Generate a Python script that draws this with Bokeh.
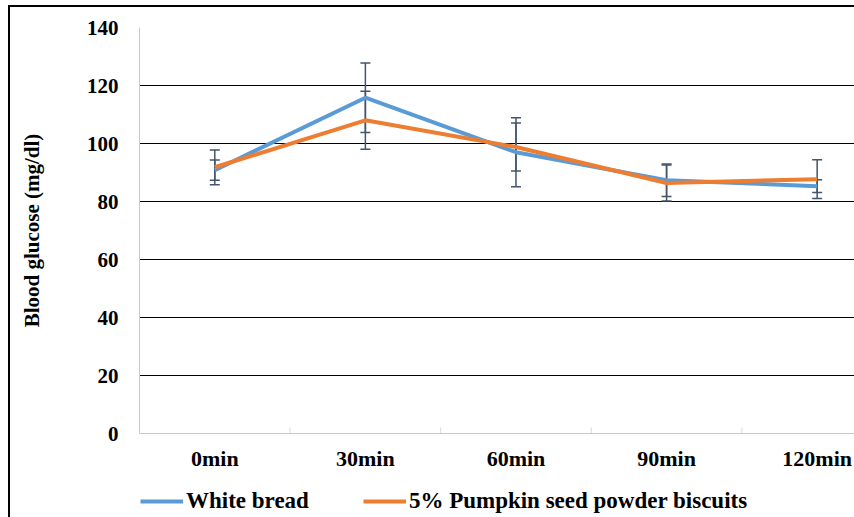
from bokeh.plotting import figure
from bokeh.layouts import column
from bokeh.models import (ColumnDataSource, FixedTicker, Whisker, TeeHead, Legend, LegendItem, Range1d)
from bokeh.embed import file_html
from bokeh.resources import INLINE

categories = ["0min", "30min", "60min", "90min", "120min"]
white_bread = [90.8, 115.8, 97.0, 87.3, 85.3]
white_bread_err = [3.5, 12.0, 11.9, 5.6, 2.2]
pumpkin = [91.8, 108.0, 98.8, 86.4, 87.7]
pumpkin_err = [6.0, 10.0, 8.3, 6.2, 6.7]
y_ticks = [0, 20, 40, 60, 80, 100, 120, 140]
series_names = ["White bread", "5% Pumpkin seed powder biscuits"]

xs = list(range(len(categories)))
bounds = [i + 0.5 for i in xs[:-1]]

FONT = "Liberation Serif"
BLUE = "#5B9BD5"
ORANGE = "#ED7D31"
ERR = "#44546A"
AXIS = "#BFCBDB"

p = figure(width=844, height=470, output_backend="svg", toolbar_location=None,
           x_range=(-0.5, 4.248), y_range=(0, 140),
           min_border_left=129, min_border_top=20, min_border_right=0,
           min_border_bottom=44)
p.outline_line_color = None
p.background_fill_color = "white"
p.border_fill_color = "white"

# grid
p.xgrid.visible = False
p.ygrid.ticker = FixedTicker(ticks=y_ticks[1:])
p.ygrid.grid_line_color = "black"
p.ygrid.grid_line_width = 1

# y axis
p.yaxis.ticker = FixedTicker(ticks=y_ticks)
p.yaxis.axis_line_color = AXIS
p.yaxis.major_tick_line_color = None
p.yaxis.minor_tick_line_color = None
p.yaxis.major_tick_out = 0
p.yaxis.major_tick_in = 0
p.yaxis.major_label_standoff = 21
p.yaxis.major_label_text_font = FONT
p.yaxis.major_label_text_font_style = "bold"
p.yaxis.major_label_text_font_size = "21px"
p.yaxis.major_label_text_color = "black"
p.yaxis.axis_label = "Blood glucose (mg/dl)"
p.yaxis.axis_label_text_font = FONT
p.yaxis.axis_label_text_font_style = "bold"
p.yaxis.axis_label_text_font_size = "21px"
p.yaxis.axis_label_text_color = "black"
p.yaxis.axis_label_standoff = 40

# x axis
p.xaxis.ticker = FixedTicker(ticks=xs)
p.xaxis.major_label_overrides = {i: c for i, c in zip(xs, categories)}
p.xaxis.axis_line_color = AXIS
p.xaxis.major_tick_line_color = None
p.xaxis.minor_tick_line_color = None
p.xaxis.major_tick_out = 0
p.xaxis.major_tick_in = 0
p.xaxis.major_label_standoff = 12
p.xaxis.major_label_text_font = FONT
p.xaxis.major_label_text_font_style = "bold"
p.xaxis.major_label_text_font_size = "22px"
p.xaxis.major_label_text_color = "black"

# category separator ticks
p.segment(x0=bounds, x1=bounds, y0=[0] * len(bounds), y1=[2.1] * len(bounds),
          line_color="#D9D9D9", line_width=1)

# error bars
src_w = ColumnDataSource(dict(x=xs, y=white_bread,
                              up=[v + e for v, e in zip(white_bread, white_bread_err)],
                              lo=[v - e for v, e in zip(white_bread, white_bread_err)]))
src_p = ColumnDataSource(dict(x=xs, y=pumpkin,
                              up=[v + e for v, e in zip(pumpkin, pumpkin_err)],
                              lo=[v - e for v, e in zip(pumpkin, pumpkin_err)]))
for src in (src_w, src_p):
    w = Whisker(base="x", upper="up", lower="lo", source=src,
                line_color=ERR, line_width=1.5,
                upper_head=TeeHead(size=10, line_color=ERR, line_width=1.5),
                lower_head=TeeHead(size=10, line_color=ERR, line_width=1.5))
    p.add_layout(w)

p.line("x", "y", source=src_w, line_color=BLUE, line_width=4)
p.line("x", "y", source=src_p, line_color=ORANGE, line_width=4)

# legend strip below the chart (its own series copies sit outside its visible range)
pl = figure(width=844, height=40, output_backend="svg", toolbar_location=None,
            x_axis_type=None, y_axis_type=None,
            x_range=Range1d(-0.5, 4.248), y_range=Range1d(1000, 1001),
            min_border_left=0, min_border_right=0, min_border_top=0, min_border_bottom=0)
pl.outline_line_color = None
pl.xgrid.visible = False
pl.ygrid.visible = False
pl.border_fill_color = "white"
lw = pl.line("x", "y", source=src_w, line_color=BLUE, line_width=4)
lp = pl.line("x", "y", source=src_p, line_color=ORANGE, line_width=4)

legend = Legend(items=[LegendItem(label=series_names[0], renderers=[lw]),
                       LegendItem(label=series_names[1], renderers=[lp])],
                location=(1, 3), orientation="horizontal",
                glyph_width=43, glyph_height=24, label_height=24,
                label_standoff=3, spacing=54, padding=0, margin=0,
                border_line_color=None, background_fill_alpha=0,
                label_text_font=FONT, label_text_font_style="bold",
                label_text_font_size="23px", label_text_color="black")
pl.add_layout(legend, "center")

layout = column(p, pl, spacing=0,
                styles={"border-left": "2px solid black", "border-top": "2px solid black",
                        "margin-left": "8px", "margin-top": "5px"})

open("out.html", "w").write(file_html(layout, INLINE))
